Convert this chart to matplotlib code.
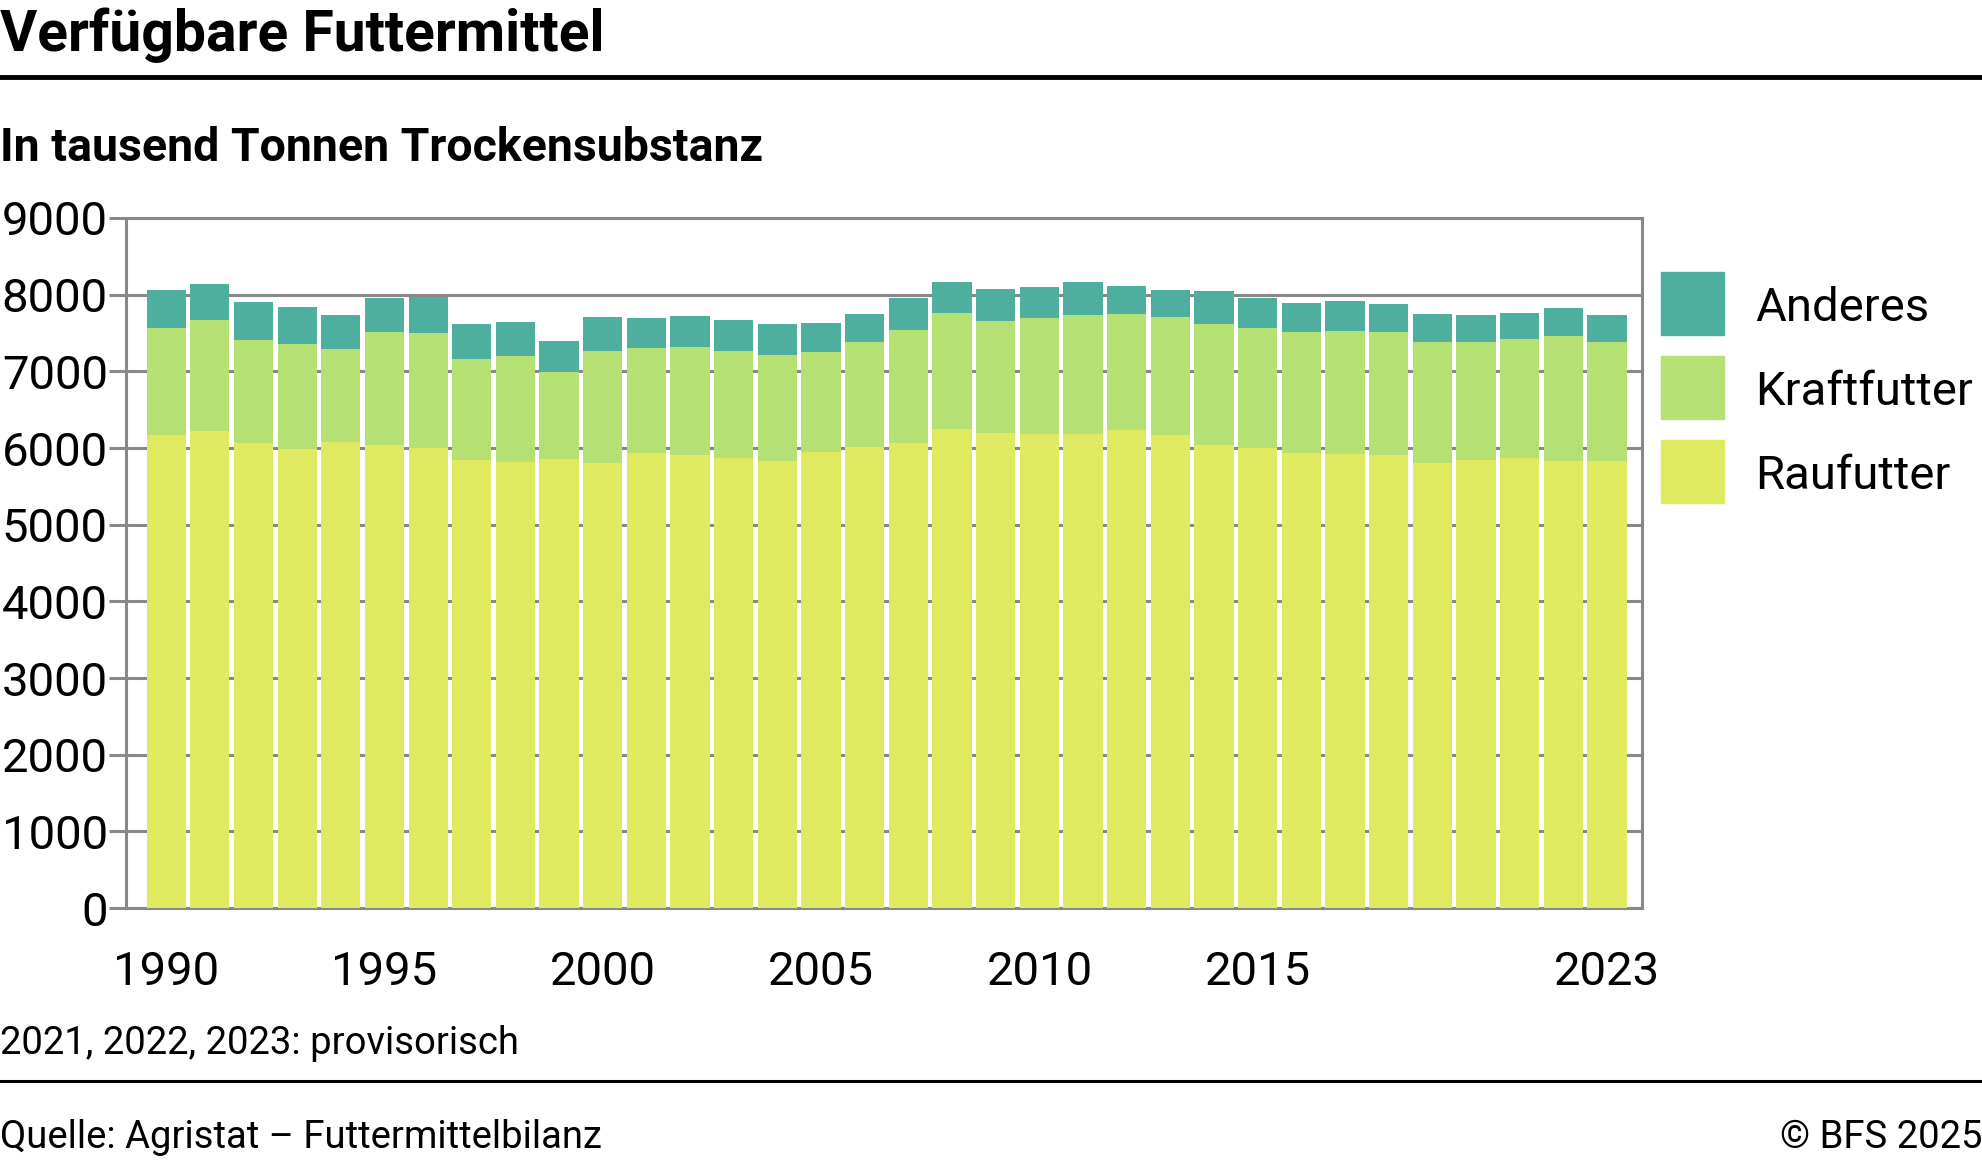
import numpy as np
import matplotlib
matplotlib.use("Agg")
import matplotlib.pyplot as plt
from matplotlib.patches import Rectangle
from matplotlib.lines import Line2D

plt.rcParams['font.family'] = ['Roboto', 'DejaVu Sans']

years = list(range(1990, 2024))
raufutter = [6174, 6226, 6070, 5991, 6083, 6043, 6004, 5848, 5822, 5861,
             5809, 5939, 5913, 5874, 5835, 5952, 6017, 6070, 6252, 6200,
             6187, 6187, 6239, 6174, 6043, 6004, 5939, 5926, 5913, 5809,
             5848, 5874, 5835, 5835]
kraft_top = [7570, 7674, 7413, 7361, 7296, 7517, 7504, 7165, 7204, 6991,
             7270, 7309, 7322, 7270, 7217, 7257, 7387, 7543, 7765, 7661,
             7700, 7739, 7752, 7713, 7622, 7570, 7517, 7530, 7517, 7387,
             7387, 7426, 7465, 7387]
total = [8065, 8143, 7909, 7843, 7739, 7961, 7974, 7622, 7648, 7400,
         7713, 7700, 7726, 7674, 7622, 7635, 7752, 7961, 8170, 8078,
         8104, 8170, 8117, 8065, 8052, 7961, 7896, 7922, 7883, 7752,
         7739, 7765, 7830, 7739]
kraftfutter = [k - r for k, r in zip(kraft_top, raufutter)]
anderes = [t - k for t, k in zip(total, kraft_top)]

series_names = ['Anderes', 'Kraftfutter', 'Raufutter']
colors = {'Raufutter': '#e0ea60', 'Kraftfutter': '#b5e073', 'Anderes': '#4faf9f'}
xtick_years = [1990, 1995, 2000, 2005, 2010, 2015, 2023]

W, H = 1983, 1161
fig = plt.figure(figsize=(W / 100, H / 100), dpi=100)

ax = fig.add_axes([126 / W, 1 - 908 / H, (1642 - 126) / W, (908 - 218) / H])
x = np.array(years)
ax.bar(x, raufutter, width=0.9, color=colors['Raufutter'], zorder=3)
ax.bar(x, kraftfutter, width=0.9, bottom=raufutter, color=colors['Kraftfutter'], zorder=3)
ax.bar(x, anderes, width=0.9, bottom=kraft_top, color=colors['Anderes'], zorder=3)

ax.set_xlim(1989.08, 2023.8)
ax.set_ylim(0, 9000)
ax.set_yticks(range(0, 9001, 1000))
ax.set_xticks(xtick_years)
ax.yaxis.grid(True, color='#888888', lw=2.2, zorder=1)
for s in ax.spines.values():
    s.set_color('#888888')
    s.set_linewidth(2.2)
ax.tick_params(axis='y', length=12, width=2.2, color='#888888', labelsize=34, pad=1)
ax.tick_params(axis='x', length=0, labelsize=34, pad=30)

# legend boxes
for i, name in enumerate(series_names):
    y0 = 272 + i * 84
    fig.patches.append(Rectangle((1661 / W, 1 - (y0 + 63) / H), 63 / W, 63 / H,
                                 transform=fig.transFigure, color=colors[name]))
    fig.text(1755 / W, 1 - (y0 + 36) / H, name, fontsize=34, va='center', ha='left')

fig.text(0, 1 - 35 / H, 'Verfügbare Futtermittel', fontsize=41, fontweight='bold',
         va='center', ha='left')
fig.lines.append(Line2D([0, 1], [1 - 77 / H, 1 - 77 / H], transform=fig.transFigure,
                        color='black', lw=3.5))
fig.text(0, 1 - 148 / H, 'In tausend Tonnen Trockensubstanz', fontsize=33.5,
         fontweight='bold', va='center', ha='left')
fig.text(0, 1 - 1043 / H, '2021, 2022, 2023: provisorisch', fontsize=27.5,
         va='center', ha='left')
fig.lines.append(Line2D([0, 1], [1 - 1081 / H, 1 - 1081 / H], transform=fig.transFigure,
                        color='black', lw=2.2))
fig.text(0, 1 - 1137 / H, 'Quelle: Agristat – Futtermittelbilanz', fontsize=27.5,
         va='center', ha='left')
fig.text(1, 1 - 1137 / H, '© BFS 2025', fontsize=27.5, va='center', ha='right')

fig.savefig('out.png', dpi=100)
